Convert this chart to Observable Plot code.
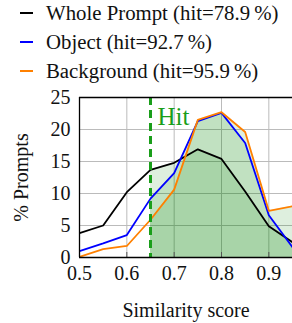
<!DOCTYPE html>
<html><head><meta charset="utf-8">
<script src="https://cdn.jsdelivr.net/npm/d3@7"></script>
<script src="https://cdn.jsdelivr.net/npm/@observablehq/plot@0.6"></script>
<style>
body{margin:0;background:#fff;font-family:'Liberation Serif','Times New Roman',serif;}
#legend{position:relative;height:86px;width:292px;overflow:hidden;}
.row{position:absolute;left:0;height:24px;display:flex;align-items:center;font-size:20.8px;color:#111;white-space:nowrap;}
.sw{position:absolute;left:20px;width:13px;height:2px;}
.lab{position:absolute;left:46px;}
</style></head><body>
<div id="legend"></div>
<div id="chart"></div>
<script>
const xs = [0.5, 0.55, 0.6, 0.65, 0.7, 0.75, 0.8, 0.85, 0.9, 0.95];
const whole = [3.8, 5.0, 10.2, 13.7, 14.8, 16.9, 15.4, 10.3, 4.9, 2.4];
const object = [1.0, 2.2, 3.5, 9.2, 13.2, 21.3, 22.6, 17.9, 6.6, 1.6];
const background = [0.1, 1.3, 1.8, 5.9, 10.6, 21.5, 22.7, 19.6, 7.3, 8.0];
const seriesNames = ["Whole Prompt", "Object", "Background"];
const seriesHit = ["78.9", "92.7", "95.9"];
const seriesColors = ["#000000", "#0000ff", "#ff8000"];
const hitThreshold = 0.65;
const xTicks = [0.5, 0.6, 0.7, 0.8, 0.9];
const yTicks = [0, 5, 10, 15, 20, 25];

const font = "'Liberation Serif', 'Times New Roman', serif";

const seriesValues = [whole, object, background];
const data = [];
seriesNames.forEach((s, i) => xs.forEach((x, j) => data.push({series: s, x, y: seriesValues[i][j]})));
const hitData = data.filter(d => d.x >= hitThreshold);

// legend
const leg = document.getElementById("legend");
const rowCenters = [13, 42, 71];
seriesNames.forEach((s, i) => {
  const r = document.createElement("div");
  r.className = "row";
  r.style.top = (rowCenters[i] - 12) + "px";
  r.style.width = "292px";
  r.innerHTML = `<span class="sw" style="background:${seriesColors[i]}"></span><span class="lab">${s} (hit=${seriesHit[i]}&#8201;%)</span>`;
  leg.appendChild(r);
});

const green = "#1a9e1a";
const chart = Plot.plot({
  width: 292,
  height: 237,
  marginTop: 11,
  marginBottom: 66,
  marginLeft: 79,
  marginRight: 0,
  style: {fontFamily: font, fontSize: "20px", color: "#111", background: "#fff"},
  x: {domain: [0.5, 0.95]},
  y: {domain: [0, 25]},
  color: {domain: seriesNames, range: seriesColors},
  marks: [
    Plot.gridX(xTicks.slice(1), {stroke: "#bbb", strokeOpacity: 1, strokeWidth: 1}),
    Plot.gridY(yTicks.slice(1, -1), {stroke: "#bbb", strokeOpacity: 1, strokeWidth: 1}),
    Plot.areaY(hitData, {x: "x", y1: 0, y2: "y", z: "series", fill: "#008000", fillOpacity: 0.13, clip: true}),
    Plot.axisX(xTicks, {tickSize: 0, tickPadding: 8, tickFormat: d => d.toFixed(1), fontSize: 20, label: "Similarity score", labelAnchor: "center", labelArrow: "none", labelOffset: 59}),
    Plot.axisY(yTicks, {tickSize: 0, tickPadding: 9, fontSize: 20, label: "% Prompts", labelAnchor: "center", labelArrow: "none", labelOffset: 66}),
    Plot.ruleX(xTicks.slice(1), {stroke: "#555", strokeWidth: 1, insetTop: 155}),
    Plot.line(data, {x: "x", y: "y", z: "series", stroke: "series", strokeWidth: 1.8, clip: true}),
    Plot.ruleX([hitThreshold], {stroke: green, strokeWidth: 3, strokeDasharray: "8,5"}),
    Plot.text(["Hit"], {x: () => hitThreshold, frameAnchor: "top", text: d => d, fill: green, fontSize: 25, textAnchor: "start", lineAnchor: "top", dx: 7, dy: 10}),
    Plot.ruleY([0, 25], {stroke: "#000", strokeWidth: 1.3}),
    Plot.ruleX([0.5], {stroke: "#000", strokeWidth: 1.3})
  ]
});
document.getElementById("chart").appendChild(chart);
</script>
</body></html>
